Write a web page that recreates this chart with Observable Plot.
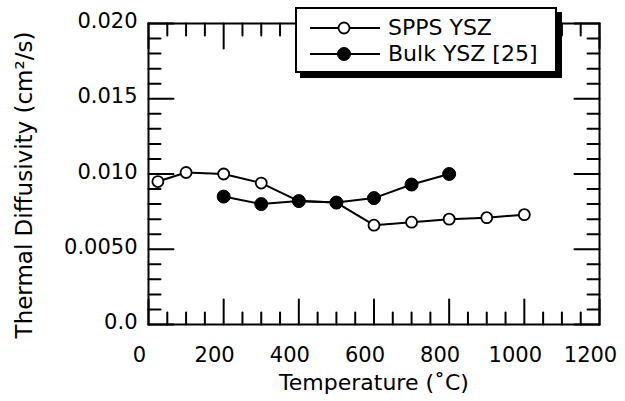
<!DOCTYPE html>
<html>
<head>
<meta charset="utf-8">
<script src="https://cdn.jsdelivr.net/npm/d3@7"></script>
<script src="https://cdn.jsdelivr.net/npm/@observablehq/plot@0.6"></script>
<style>
  html, body { margin: 0; padding: 0; background: #fff; }
  #wrap { position: relative; width: 625px; height: 401px; font-family: "DejaVu Sans", sans-serif; }
  #legend { position: absolute; left: 295px; top: 7px; width: 262px; height: 66px; box-sizing: border-box;
    border: 2px solid #000; background: #fff; box-shadow: 5px 5px 0 #000; }
  .row { position: absolute; left: 0; height: 26px; display: flex; align-items: center; }
  .row svg { display: block; margin-left: 13px; }
  .row span { margin-left: 8px; font-size: 22px; line-height: 26px; color: #000; white-space: nowrap; }
</style>
</head>
<body>
<div id="wrap"></div>
<script>
// ---- data ----
const sppsTemp = [25, 100, 200, 300, 400, 500, 600, 700, 800, 900, 1000];
const sppsDiff = [0.0095, 0.0101, 0.0100, 0.0094, 0.0082, 0.0081, 0.0066, 0.0068, 0.0070, 0.0071, 0.0073];
const bulkTemp = [200, 300, 400, 500, 600, 700, 800];
const bulkDiff = [0.0085, 0.0080, 0.0082, 0.0081, 0.0084, 0.0093, 0.0100];
const seriesNames = ["SPPS YSZ", "Bulk YSZ [25]"];
const xTickValues = [0, 200, 400, 600, 800, 1000, 1200];
const xTickLabels = ["0", "200", "400", "600", "800", "1000", "1200"];
const yTickValues = [0, 0.005, 0.010, 0.015, 0.020];
const yTickLabels = ["0.0", "0.0050", "0.010", "0.015", "0.020"];
const xTitle = "Temperature (˚C)";
const yTitle = "Thermal Diffusivity (cm²/s)";

const spps = sppsTemp.map((t, i) => ({t, v: sppsDiff[i]}));
const bulk = bulkTemp.map((t, i) => ({t, v: bulkDiff[i]}));
const xMinor = d3.range(0, 1201, 50).filter(d => d % 200 !== 0);
const yMinor = d3.range(0, 21, 1).map(d => d / 1000).filter((d, i) => i % 5 !== 0);

const tickShape = {draw(ctx, l) { ctx.moveTo(0, 0); ctx.lineTo(0, -l); }};
const tk = (data, ch, anchor, rot, len) => Plot.vector(data, {
  [ch]: d => d, frameAnchor: anchor, rotate: rot, length: len, anchor: "start",
  shape: tickShape, stroke: "#000", strokeWidth: 2
});

const font = "DejaVu Sans, sans-serif";

const chart = Plot.plot({
  width: 625, height: 401,
  marginLeft: 148, marginRight: 26, marginTop: 23, marginBottom: 77,
  x: {domain: [0, 1200], axis: null},
  y: {domain: [0, 0.02], axis: null},
  style: {fontFamily: font, background: "#fff", color: "#000"},
  marks: [
    // ticks, all four sides, pointing inward
    tk(xMinor, "x", "bottom", 0, 12), tk(xTickValues, "x", "bottom", 0, 25),
    tk(xMinor, "x", "top", 180, 12), tk(xTickValues, "x", "top", 180, 25),
    tk(yMinor, "y", "left", 90, 12), tk(yTickValues, "y", "left", 90, 25),
    tk(yMinor, "y", "right", -90, 12), tk(yTickValues, "y", "right", -90, 25),
    Plot.frame({stroke: "#000", strokeWidth: 2}),
    // tick labels
    Plot.text(xTickValues, {x: d => d, text: (d, i) => xTickLabels[i], frameAnchor: "bottom",
      lineAnchor: "top", dy: 23, dx: -9, fontSize: 21, fill: "#000"}),
    Plot.text(yTickValues, {y: d => d, text: (d, i) => yTickLabels[i], frameAnchor: "left",
      textAnchor: "end", dx: -11, dy: -2, fontSize: 21, fill: "#000"}),
    // axis titles
    Plot.text([xTitle], {text: d => d, frameAnchor: "bottom", lineAnchor: "middle", textAnchor: "middle",
      dy: 58, fontSize: 22, fill: "#000"}),
    Plot.text([yTitle], {text: d => d, frameAnchor: "left", textAnchor: "middle", lineAnchor: "middle",
      rotate: -90, dx: -124, dy: 11, fontSize: 23, fill: "#000"}),
    // series
    Plot.line(spps, {x: "t", y: "v", stroke: "#000", strokeWidth: 2}),
    Plot.line(bulk, {x: "t", y: "v", stroke: "#000", strokeWidth: 2}),
    Plot.dot(spps, {x: "t", y: "v", r: 5.5, fill: "#fff", stroke: "#000", strokeWidth: 1.8}),
    Plot.dot(bulk, {x: "t", y: "v", r: 6.5, fill: "#000", stroke: "#000", strokeWidth: 1})
  ]
});

const wrap = document.getElementById("wrap");
wrap.appendChild(chart);

// legend
const legend = document.createElement("div");
legend.id = "legend";
const rowsTop = [6, 32];
seriesNames.forEach((name, i) => {
  const row = document.createElement("div");
  row.className = "row";
  row.style.top = rowsTop[i] + "px";
  const filled = i === 1;
  row.innerHTML = `<svg width="70" height="16" viewBox="0 0 70 16">
      <line x1="0" y1="8" x2="70" y2="8" stroke="#000" stroke-width="2"/>
      <circle cx="34" cy="8" r="${filled ? 6.5 : 5.5}" fill="${filled ? "#000" : "#fff"}" stroke="#000" stroke-width="${filled ? 1 : 1.8}"/>
    </svg><span></span>`;
  row.querySelector("span").textContent = name;
  legend.appendChild(row);
});
wrap.appendChild(legend);
</script>
</body>
</html>
